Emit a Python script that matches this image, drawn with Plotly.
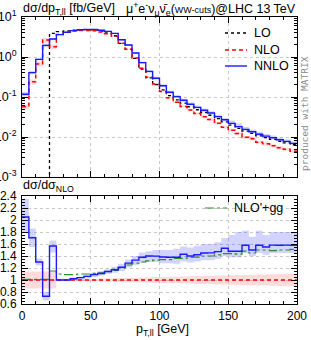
import plotly.graph_objects as go

# ---------------- data ----------------
bin_edges = [0, 5, 10, 15, 20, 25, 30, 35, 40, 45, 50, 55, 60, 65, 70, 75, 80, 85, 90, 95,
             100, 105, 110, 115, 120, 125, 130, 135, 140, 145, 150, 155, 160, 165, 170, 175,
             180, 185, 190, 195, 200]

nnlo = [0.117, 0.407, 0.871, 1.95, 2.82, 3.63, 4.17, 4.57, 4.79, 4.90,
        4.90, 4.68, 4.37, 3.89, 2.69, 2.00, 1.26, 0.724, 0.437, 0.295,
        0.191, 0.132, 0.102, 0.0832, 0.0661, 0.0550, 0.0468, 0.0398, 0.0324, 0.0269,
        0.0219, 0.0182, 0.0155, 0.0135, 0.0117, 0.0105, 0.00955, 0.00851, 0.00776, 0.00692]

nlo = [0.0571, 0.239, 0.670, 2.67, 1.80, 3.63, 4.17, 4.48, 4.61, 4.62,
       4.50, 4.22, 3.83, 3.32, 2.22, 1.56, 0.947, 0.525, 0.312, 0.211,
       0.138, 0.0957, 0.0739, 0.0582, 0.0472, 0.0387, 0.0323, 0.0274, 0.0220, 0.0176,
       0.0148, 0.0123, 0.00981, 0.0090, 0.00741, 0.00677, 0.00604, 0.00539, 0.00491, 0.00438]

lo_edges = [20, 25, 30, 35, 40, 45, 50, 55, 60, 65, 70, 75, 80, 85, 90, 95,
            100, 105, 110, 115, 120, 125, 130, 135, 140, 145, 150, 155, 160, 165, 170, 175,
            180, 185, 190, 195, 200]
lo = [3.9, 4.3, 4.5, 4.7, 4.8, 4.85, 4.75, 4.45, 4.0, 3.4, 2.2, 1.55, 0.92, 0.50, 0.30, 0.205,
      0.150, 0.108, 0.085, 0.070, 0.057, 0.048, 0.041, 0.035, 0.0288, 0.0240, 0.0197, 0.0165,
      0.0141, 0.0123, 0.0107, 0.0096, 0.0087, 0.0078, 0.0071, 0.0064]

# NLO'+gg divided by NLO
ratio_gg = [1.01, 1.01, 1.01, 1.01, 1.15, 1.10, 1.09, 1.09, 1.10, 1.10,
            1.11, 1.12, 1.14, 1.16, 1.20, 1.25, 1.28, 1.30, 1.32, 1.33,
            1.34, 1.34, 1.36, 1.36, 1.38, 1.38, 1.40, 1.40, 1.42, 1.44,
            1.44, 1.43, 1.48, 1.45, 1.50, 1.50, 1.49, 1.50, 1.50, 1.51]

# scale-uncertainty bands relative to NLO
nnlo_band_lo = [1.80, 1.55, 1.24, 0.66, 1.46, 0.98, 0.98, 1.00, 1.01, 1.03,
                1.05, 1.07, 1.10, 1.12, 1.15, 1.21, 1.25, 1.29, 1.30, 1.30,
                1.28, 1.28, 1.27, 1.31, 1.29, 1.31, 1.33, 1.33, 1.35, 1.40,
                1.38, 1.38, 1.45, 1.40, 1.45, 1.42, 1.45, 1.45, 1.45, 1.45]
nnlo_band_hi = [2.35, 1.86, 1.36, 0.80, 1.66, 1.02, 1.02, 1.04, 1.06, 1.09,
                1.12, 1.15, 1.18, 1.22, 1.27, 1.34, 1.40, 1.46, 1.48, 1.50,
                1.50, 1.50, 1.52, 1.56, 1.54, 1.57, 1.60, 1.60, 1.63, 1.70,
                1.75, 1.80, 1.82, 1.72, 1.82, 1.75, 1.80, 1.80, 1.80, 1.80]
nlo_band_lo = [0.86, 0.86, 0.86, 0.86, 0.86, 0.985, 0.985, 0.985, 0.98, 0.98,
               0.978, 0.975, 0.972, 0.97, 0.967, 0.964, 0.961, 0.958, 0.955, 0.952,
               0.95, 0.947, 0.944, 0.941, 0.938, 0.935, 0.932, 0.93, 0.927, 0.924,
               0.921, 0.918, 0.915, 0.912, 0.91, 0.907, 0.904, 0.90, 0.897, 0.894]
nlo_band_hi = [1.14, 1.14, 1.14, 1.14, 1.14, 1.015, 1.015, 1.015, 1.02, 1.02,
               1.022, 1.025, 1.028, 1.03, 1.033, 1.036, 1.039, 1.042, 1.045, 1.048,
               1.05, 1.053, 1.056, 1.059, 1.062, 1.065, 1.068, 1.07, 1.073, 1.076,
               1.079, 1.082, 1.085, 1.088, 1.09, 1.093, 1.096, 1.10, 1.103, 1.106]

x_tick_vals = [0, 50, 100, 150, 200]
y_top_ticks = [1e-3, 1e-2, 1e-1, 1, 10]
y_top_labels = ["10<sup>-3</sup>", "10<sup>-2</sup>", "10<sup>-1</sup>", "10<sup>0</sup>", "10<sup>1</sup>"]
y_bot_ticks = [0.6, 0.8, 1, 1.2, 1.4, 1.6, 1.8, 2, 2.2, 2.4]
y_bot_labels = ["0.6", "0.8", "1", "1.2", "1.4", "1.6", "1.8", "2", "2.2", "2.4"]

# ---------------- helpers ----------------
W, H = 311, 340


def step(vals):
    return list(vals) + [vals[-1]]


def px_x(p):
    return p / W


def px_y(p):
    return 1 - p / H


x_step = bin_edges
ratio_nnlo = [a / b for a, b in zip(nnlo, nlo)]
ratio_nlo = [1.0] * len(nlo)

BLUE = "#1a1aff"
RED = "#ff0000"
GREEN = "#2e8b2e"
BAND_BLUE = "rgba(80,80,255,0.25)"
BAND_RED = "rgba(255,90,90,0.22)"

fig = go.Figure()


def band(x, lo_vals, hi_vals, color, xa, ya):
    fig.add_trace(go.Scatter(x=x, y=step(lo_vals), mode="lines", line=dict(width=0, shape="hv"),
                             xaxis=xa, yaxis=ya, showlegend=False, hoverinfo="skip"))
    fig.add_trace(go.Scatter(x=x, y=step(hi_vals), mode="lines", line=dict(width=0, shape="hv"),
                             fill="tonexty", fillcolor=color,
                             xaxis=xa, yaxis=ya, showlegend=False, hoverinfo="skip"))


# ---- top panel ----
band(x_step, [n * r for n, r in zip(nlo, nlo_band_lo)], [n * r for n, r in zip(nlo, nlo_band_hi)],
     BAND_RED, "x", "y")
band(x_step, [n * r for n, r in zip(nlo, nnlo_band_lo)], [n * r for n, r in zip(nlo, nnlo_band_hi)],
     BAND_BLUE, "x", "y")

fig.add_trace(go.Scatter(x=[lo_edges[0]] + lo_edges, y=[1e-4] + step(lo), mode="lines",
                         line=dict(color="black", width=1.3, dash="dot", shape="hv"),
                         xaxis="x", yaxis="y", showlegend=False))
fig.add_trace(go.Scatter(x=x_step, y=step(nlo), mode="lines",
                         line=dict(color=RED, width=1.5, dash="4px,3px", shape="hv"),
                         xaxis="x", yaxis="y", showlegend=False))
fig.add_trace(go.Scatter(x=x_step, y=step(nnlo), mode="lines",
                         line=dict(color=BLUE, width=1.4, shape="hv"),
                         xaxis="x", yaxis="y", showlegend=False))

# ---- bottom panel ----
band(x_step, nlo_band_lo, nlo_band_hi, BAND_RED, "x2", "y2")
band(x_step, nnlo_band_lo, nnlo_band_hi, BAND_BLUE, "x2", "y2")
fig.add_trace(go.Scatter(x=x_step, y=step(ratio_gg), mode="lines",
                         line=dict(color=GREEN, width=1.2, dash="dashdot", shape="hv"),
                         xaxis="x2", yaxis="y2", showlegend=False))
fig.add_trace(go.Scatter(x=x_step, y=step(ratio_nlo), mode="lines",
                         line=dict(color=RED, width=1.5, dash="4px,3px", shape="hv"),
                         xaxis="x2", yaxis="y2", showlegend=False))
fig.add_trace(go.Scatter(x=x_step, y=step(ratio_nnlo), mode="lines",
                         line=dict(color=BLUE, width=1.4, shape="hv"),
                         xaxis="x2", yaxis="y2", showlegend=False))

# ---------------- layout ----------------
x0, x1 = px_x(22), px_x(297)
top_dom = [px_y(177), px_y(17)]
bot_dom = [px_y(304), px_y(196)]

FONT = "Liberation Sans, Arial, sans-serif"
tickfont = dict(family=FONT, size=12, color="black")
grid = dict(showgrid=True, gridcolor="#c8c8c8", griddash="dot", gridwidth=1)
common_x = dict(range=[0, 200], domain=[x0, x1], showline=True, linecolor="black", linewidth=1,
                mirror="ticks", ticks="inside", ticklen=6, tickcolor="black",
                tickmode="array", tickvals=x_tick_vals, zeroline=False, automargin=False,
                minor=dict(ticks="inside", ticklen=3, tickcolor="black", tickmode="array",
                           tickvals=[v for v in range(10, 200, 10) if v % 50], showgrid=False),
                **grid)

minor_log = [m * 10 ** e for e in range(-3, 1) for m in range(2, 10)]

fig.update_layout(
    width=W, height=H,
    margin=dict(l=0, r=0, t=0, b=0),
    paper_bgcolor="white", plot_bgcolor="white",
    template="none",
    showlegend=False,
    xaxis=dict(anchor="y", showticklabels=False, **common_x),
    xaxis2=dict(anchor="y2", showticklabels=True, tickfont=tickfont, ticklabelstandoff=1, **common_x),
    yaxis=dict(type="log", range=[-3, 1], domain=top_dom, anchor="x", showline=True,
               linecolor="black", linewidth=1, mirror="ticks", ticks="inside", ticklen=6,
               tickcolor="black", tickmode="array", tickvals=y_top_ticks, ticktext=y_top_labels,
               tickfont=dict(family=FONT, size=12.5, color="black"), zeroline=False,
               automargin=False, ticklabelstandoff=2,
               minor=dict(ticks="inside", ticklen=3, tickcolor="black", tickmode="array",
                          tickvals=minor_log, showgrid=False),
               **grid),
    yaxis2=dict(range=[0.6, 2.4], domain=bot_dom, anchor="x2", showline=True,
                linecolor="black", linewidth=1, mirror="ticks", ticks="inside", ticklen=6,
                tickcolor="black", tickmode="array", tickvals=y_bot_ticks, ticktext=y_bot_labels,
                tickfont=tickfont, zeroline=False, automargin=False, ticklabelstandoff=2,
                minor=dict(ticks="inside", ticklen=3, tickcolor="black", dtick=0.05, showgrid=False),
                **grid),
)

ann = []


def text(t, xp, yp, size=12.5, xanchor="left", yanchor="middle", color="black", family=FONT, angle=0):
    ann.append(dict(text=t, x=px_x(xp), y=px_y(yp), xref="paper", yref="paper", showarrow=False,
                    xanchor=xanchor, yanchor=yanchor, font=dict(family=family, size=size, color=color),
                    textangle=angle))


text("dσ/dp<sub>T,ll</sub> [fb/GeV]", 21, 9, size=12.5)
text("μ<sup>+</sup>e<sup>-</sup>ν<sub>μ</sub>ν̄<sub>e</sub>(<span style='font-size:9px'>WW-cuts</span>)@LHC 13 TeV",
     298, 9, size=12.5, xanchor="right")
text("dσ/dσ<sub>NLO</sub>", 21, 186, size=12.5)
text("p<sub>T,ll</sub> [GeV]", 162, 330, size=12.5, xanchor="center")
text("produced with MATRIX", 305, 114, size=9.5, xanchor="center", color="#8a8a8a",
     family="DejaVu Sans Mono, monospace", angle=-90)

# legends
text("LO", 252, 33, size=12.5)
text("NLO", 252, 50, size=12.5)
text("NNLO", 252, 66, size=12.5)
text("NLO'+gg", 232, 208, size=12.5)
fig.update_layout(annotations=ann)

shapes = []


def leg_line(xa, xb, yp, color, dash, width):
    shapes.append(dict(type="line", xref="paper", yref="paper", x0=px_x(xa), x1=px_x(xb),
                       y0=px_y(yp), y1=px_y(yp), line=dict(color=color, dash=dash, width=width)))


leg_line(225, 247, 33, "black", "dot", 1.3)
leg_line(225, 247, 50, RED, "4px,3px", 1.5)
leg_line(225, 247, 66, BLUE, "solid", 1.4)
leg_line(205, 227, 208, GREEN, "dashdot", 1.2)
fig.update_layout(shapes=shapes)

fig.write_html("out.html", config={"displayModeBar": False},
               post_script="document.body.style.margin='0';document.body.style.overflow='hidden';")
